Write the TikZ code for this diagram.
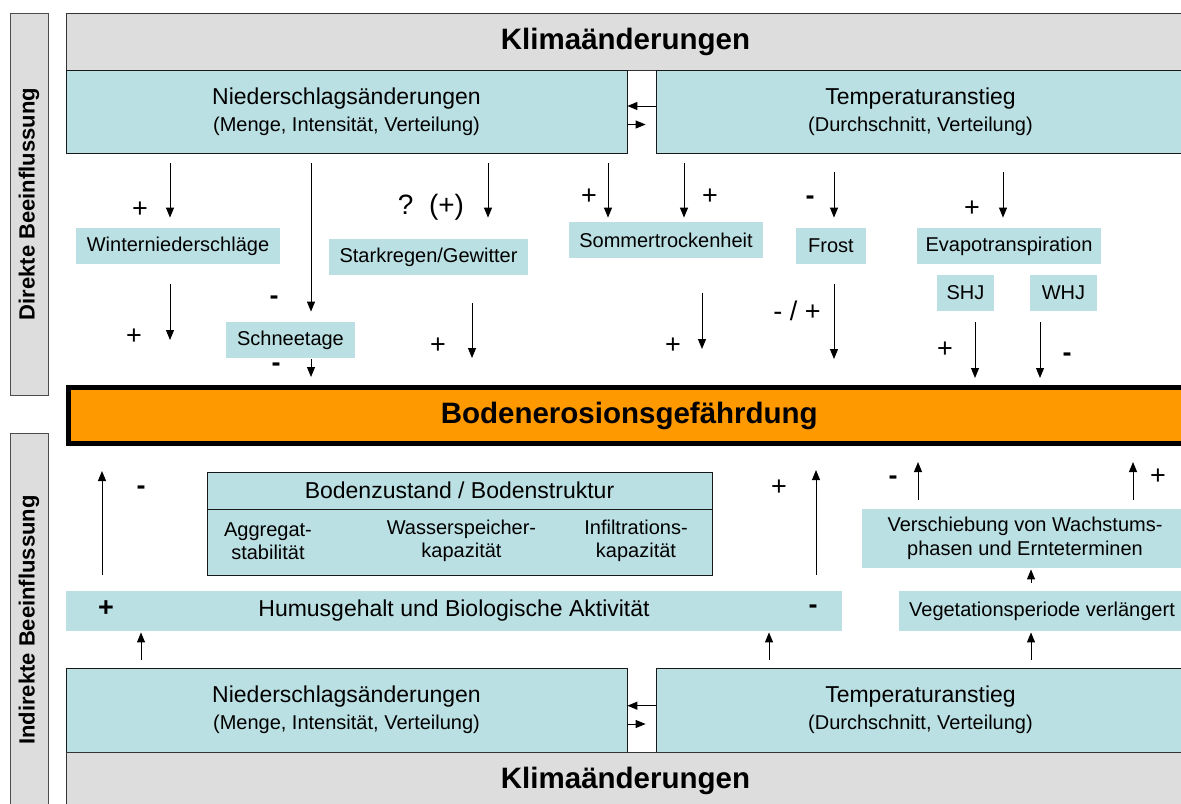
\documentclass[tikz,border=0pt]{standalone}
\usepackage{fontspec}
\setmainfont{Liberation Sans}
\usetikzlibrary{arrows.meta}

\definecolor{boxcyan}{RGB}{187,224,227}
\definecolor{boxgray}{RGB}{221,221,221}
\definecolor{boxorange}{RGB}{255,153,0}

\begin{document}
\begin{tikzpicture}[
  x=0.5pt, y=-0.5pt,
  klima/.style={draw=black!80, fill=boxgray, inner sep=0pt,
    minimum width=559.5pt, minimum height=28.5pt,
    font=\fontsize{14.75}{17}\selectfont\bfseries},
  cause/.style={draw=black!90, fill=boxcyan, inner sep=0pt, align=center,
    minimum height=41.5pt, font=\fontsize{11.5}{13.5}\selectfont},
  item/.style={fill=boxcyan, inner sep=0pt, minimum height=18pt,
    font=\fontsize{10}{12}\selectfont},
  side/.style={draw=black!70, fill=boxgray, inner sep=0pt, rotate=90,
    minimum height=19pt, font=\fontsize{11}{13}\selectfont\bfseries},
  erosion/.style={draw=black, line width=2.5pt, fill=boxorange, inner sep=0pt,
    font=\fontsize{14.75}{17}\selectfont\bfseries},
  sign/.style={inner sep=0pt, font=\fontsize{13.5}{15}\selectfont},
  arr/.style={-{Triangle[length=5pt,width=4pt]}, line width=0.5pt}
]
  \useasboundingbox (0,0) rectangle (1181,803);

  % Seitenbeschriftung
  \node[side, minimum width=191pt] (direkt) at (29,204) {Direkte Beeinflussung};
  \node[side, minimum width=187pt] (indirekt) at (29,620) {Indirekte Beeinflussung};

  % oben: Klimaaenderungen
  \node[klima] (klimaT) at (625.5,41.5) {Klimaänderungen};
  \node[cause, minimum width=280.5pt] (niedT) at (346.5,111.5)
    {Niederschlagsänderungen\\{\fontsize{10}{13.5}\selectfont(Menge, Intensität, Verteilung)}};
  \node[cause, minimum width=264.5pt] (tempT) at (920.5,111.5)
    {Temperaturanstieg\\{\fontsize{10}{13.5}\selectfont(Durchschnitt, Verteilung)}};
  \draw[arr] ([yshift=2.75pt]tempT.west) -- ([yshift=2.75pt]niedT.east);
  \draw[arr, shorten >=5pt] ([yshift=-6.5pt]niedT.east) -- ([yshift=-6.5pt]tempT.west);

  % direkte Faktoren
  \node[item, minimum width=102pt] (winter) at (178,246) {Winterniederschläge};
  \node[item, minimum width=99.5pt] (stark) at (428.5,257) {Starkregen/Gewitter};
  \node[item, minimum width=64.5pt] (schnee) at (290.5,340) {Schneetage};
  \node[item, minimum width=97pt] (sommer) at (666,240) {Sommertrockenheit};
  \node[item, minimum width=35pt] (frost) at (831,246) {Frost};
  \node[item, minimum width=92pt] (evapo) at (1009,246) {Evapotranspiration};
  \node[item, minimum width=28.5pt] (shj) at (965.5,293) {SHJ};
  \node[item, minimum width=33.5pt] (whj) at (1063.5,293) {WHJ};

  % Bodenerosion
  \node[erosion, minimum width=560.75pt, minimum height=28pt] (bar) at (629.25,415.5)
    {Bodenerosionsgefährdung};

  % indirekte Faktoren
  \node[draw=black!90, fill=boxcyan, inner sep=0pt, minimum width=252.5pt,
    minimum height=18.5pt, font=\fontsize{11.5}{13.5}\selectfont] (bodenH)
    at (459.5,490.5) {Bodenzustand / Bodenstruktur};
  \node[draw=black!90, fill=boxcyan, inner sep=0pt, minimum width=252.5pt,
    minimum height=33pt] (bodenK) at (459.5,542) {};
  \node[align=center, inner sep=0pt, font=\fontsize{10}{11.5}\selectfont] (aggr)
    at (268,541) {Aggregat-\\stabilität};
  \node[align=center, inner sep=0pt, font=\fontsize{10}{11.5}\selectfont] (wasser)
    at (461.5,541) {Wasserspeicher-\\kapazität};
  \node[align=center, inner sep=0pt, font=\fontsize{10}{11.5}\selectfont] (infil)
    at (636,541) {Infiltrations-\\kapazität};
  \node[item, minimum width=388pt, minimum height=20pt, font=\fontsize{11.5}{13.5}\selectfont]
    (humus) at (454,611) {Humusgehalt und Biologische Aktivität};
  \node[item, align=center, minimum width=163pt, minimum height=29.5pt,
    font=\fontsize{10}{12}\selectfont] (versch) at (1025,538.5)
    {Verschiebung von Wachstums-\\phasen und Ernteterminen};
  \node[item, minimum width=143pt, minimum height=20pt] (veg) at (1042,611)
    {Vegetationsperiode verlängert};

  % unten: Klimaaenderungen
  \node[cause, minimum width=280.5pt, minimum height=42pt] (niedB) at (346.5,710)
    {Niederschlagsänderungen\\{\fontsize{10}{13.5}\selectfont(Menge, Intensität, Verteilung)}};
  \node[cause, minimum width=264.5pt, minimum height=42pt] (tempB) at (920.5,710)
    {Temperaturanstieg\\{\fontsize{10}{13.5}\selectfont(Durchschnitt, Verteilung)}};
  \node[klima, minimum height=29pt] (klimaB) at (625.5,781) {Klimaänderungen};
  \draw[arr] ([yshift=2.15pt]tempB.west) -- ([yshift=2.15pt]niedB.east);
  \draw[arr, shorten >=5pt] ([yshift=-7pt]niedB.east) -- ([yshift=-7pt]tempB.west);

  % Spalten der Pfeile
  \coordinate (xWinter) at (170,0);
  \coordinate (xSchnee) at (311,0);
  \coordinate (xStark) at (488,0);
  \coordinate (xStarkU) at (472,0);
  \coordinate (xSommerN) at (608,0);
  \coordinate (xSommerT) at (684,0);
  \coordinate (xSommerU) at (702,0);
  \coordinate (xFrost) at (834,0);
  \coordinate (xEvapo) at (1003,0);
  \coordinate (xSHJ) at (975,0);
  \coordinate (xWHJ) at (1040,0);
  \coordinate (xHumusL) at (102,0);
  \coordinate (xHumusR) at (816,0);
  \coordinate (xVerschL) at (918,0);
  \coordinate (xVerschR) at (1133,0);
  \coordinate (xVeg) at (1031,0);
  \coordinate (xNiedB) at (141,0);
  \coordinate (xTempB) at (769,0);

  % direkte Pfeile
  \draw[arr, shorten <=5pt, shorten >=5pt] (niedT.south -| xWinter) -- (winter.north -| xWinter);
  \draw[arr, shorten <=5pt, shorten >=5pt] (niedT.south -| xSchnee) -- (schnee.north -| xSchnee);
  \draw[arr, shorten <=5pt, shorten >=10.5pt] (niedT.south -| xStark) -- (stark.north -| xStark);
  \draw[arr, shorten <=5pt, shorten >=2pt] (niedT.south -| xSommerN) -- (sommer.north -| xSommerN);
  \draw[arr, shorten <=5pt, shorten >=2pt] (tempT.south -| xSommerT) -- (sommer.north -| xSommerT);
  \draw[arr, shorten <=9.5pt, shorten >=5pt] (tempT.south -| xFrost) -- (frost.north -| xFrost);
  \draw[arr, shorten <=9.5pt, shorten >=5pt] (tempT.south -| xEvapo) -- (evapo.north -| xEvapo);

  \draw[arr, shorten <=10pt, shorten >=22.5pt] (winter.south -| xWinter) -- (bar.north -| xWinter);
  \draw[arr, shorten <=0.5pt, shorten >=4pt] (schnee.south -| xSchnee) -- (bar.north -| xSchnee);
  \draw[arr, shorten <=14pt, shorten >=13.5pt] (stark.south -| xStarkU) -- (bar.north -| xStarkU);
  \draw[arr, shorten <=17.5pt, shorten >=18pt] (sommer.south -| xSommerU) -- (bar.north -| xSommerU);
  \draw[arr, shorten <=10pt, shorten >=13pt] (frost.south -| xFrost) -- (bar.north -| xFrost);
  \draw[arr, shorten <=5.5pt, shorten >=3.5pt] (shj.south -| xSHJ) -- (bar.north -| xSHJ);
  \draw[arr, shorten <=5.5pt, shorten >=3.5pt] (whj.south -| xWHJ) -- (bar.north -| xWHJ);

  % indirekte Pfeile
  \draw[arr, shorten <=8pt, shorten >=12.5pt] (humus.north -| xHumusL) -- (bar.south -| xHumusL);
  \draw[arr, shorten <=8pt, shorten >=12pt] (humus.north -| xHumusR) -- (bar.south -| xHumusR);
  \draw[arr, shorten <=4.5pt, shorten >=8pt] (versch.north -| xVerschL) -- (bar.south -| xVerschL);
  \draw[arr, shorten <=4.5pt, shorten >=8pt] (versch.north -| xVerschR) -- (bar.south -| xVerschR);
  \draw[arr, shorten <=4pt, shorten >=0.5pt] (veg.north -| xVeg) -- (versch.south -| xVeg);
  \draw[arr, shorten <=4pt, shorten >=0.5pt] (niedB.north -| xNiedB) -- (humus.south -| xNiedB);
  \draw[arr, shorten <=4pt, shorten >=0.5pt] (tempB.north -| xTempB) -- (humus.south -| xTempB);
  \draw[arr, shorten <=4pt, shorten >=0.5pt] (tempB.north -| xVeg) -- (veg.south -| xVeg);

  % Vorzeichen
  \node[sign] (s1) at (140,210) {+};
  \node[sign] (s2) at (274,300) {\textbf{-}};
  \node[sign, font=\fontsize{14}{16}\selectfont] (s3) at (431,207) {?\ \ (+)};
  \node[sign] (s4) at (589,197) {+};
  \node[sign] (s5) at (710,197) {+};
  \node[sign] (s6) at (810,200) {\textbf{-}};
  \node[sign] (s7) at (972,209) {+};
  \node[sign] (s8) at (134,337) {+};
  \node[sign] (s9) at (276,367) {\textbf{-}};
  \node[sign] (s10) at (438,346) {+};
  \node[sign] (s11) at (673,346) {+};
  \node[sign] (s12) at (797,311) {- / +};
  \node[sign] (s13) at (945,350) {+};
  \node[sign] (s14) at (1067,357) {\textbf{-}};
  \node[sign] (s15) at (141,490) {\textbf{-}};
  \node[sign] (s16) at (779,488) {+};
  \node[sign] (s17) at (893,480) {\textbf{-}};
  \node[sign] (s18) at (1158,477) {+};
  \node[sign, font=\fontsize{13.5}{15}\selectfont\bfseries] (s19) at (106,609) {+};
  \node[sign, font=\fontsize{13.5}{15}\selectfont\bfseries] (s20) at (813,609) {-};
\end{tikzpicture}
\end{document}
